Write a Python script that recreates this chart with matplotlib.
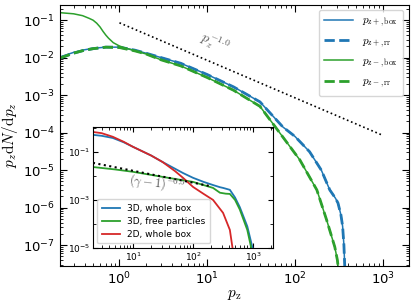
import numpy as np
import matplotlib
matplotlib.use("Agg")
import matplotlib.pyplot as plt
from matplotlib.ticker import LogLocator, FixedLocator, NullFormatter

plt.rcParams['mathtext.fontset'] = 'cm'

# main panel: momentum spectra, log10 values
p_plus = [0.21, 0.3, 0.4, 0.5, 0.7, 1.0, 1.5, 2, 3, 5, 10, 20, 40, 73, 100, 147, 200, 250, 290, 310, 335, 350, 362, 372]
v_plus_rr = [-2.01, -1.88, -1.80, -1.76, -1.72, -1.72, -1.80, -1.88, -2.0, -2.15, -2.45, -2.78, -3.18, -3.85, -4.1, -4.51,
             -5.0, -5.53, -5.75, -5.88, -6.2, -6.5, -7.0, -7.7]
v_plus_box = [-1.98, -1.86, -1.79, -1.75, -1.72, -1.72, -1.80, -1.88, -2.0, -2.15, -2.45, -2.78, -3.18, -3.85, -4.1, -4.51,
              -5.0, -5.53, -5.75, -5.88, -6.2, -6.5, -7.0, -7.7]

p_minus = [0.21, 0.3, 0.38, 0.45, 0.5, 0.55, 0.6, 0.65, 0.7, 0.75, 0.85, 1.0, 1.2, 1.5, 2, 3, 5, 10, 20, 40, 73, 114,
           178, 230, 285, 305, 315]
v_minus_box = [-0.8, -0.83, -0.88, -0.95, -1.0, -1.08, -1.18, -1.3, -1.4, -1.48, -1.6, -1.69, -1.75, -1.82, -1.9,
               -2.06, -2.22, -2.53, -2.87, -3.3, -4.12, -4.73, -5.53, -6.33, -7.05, -7.4, -7.7]
p_minus_rr = [0.21, 0.3, 0.4, 0.5, 0.7, 1.0, 1.5, 2, 3, 5, 10, 20, 40, 73, 114, 178, 230, 285, 305, 315]
v_minus_rr = [-2.01, -1.88, -1.80, -1.76, -1.72, -1.73, -1.82, -1.9, -2.06, -2.22, -2.53, -2.87, -3.3,
              -4.12, -4.73, -5.53, -6.33, -7.05, -7.4, -7.7]

ref_p = [1.0, 1000.0]
ref_v = [0.085, 8.5e-5]

# inset: energy spectra vs (gamma - 1)
g_blue = [2.15, 3, 4.6, 7, 10, 20, 31, 50, 68, 100, 150, 215, 280, 316, 410, 500, 600, 800, 1000]
v_blue = [-0.29, -0.33, -0.42, -0.6, -0.79, -1.15, -1.42, -1.7, -1.88, -2.08, -2.25, -2.38, -2.47, -2.5, -2.58,
          -2.9, -3.3, -4.1, -5.1]
g_red = [2.15, 3, 4.6, 7, 10, 20, 31, 50, 68, 100, 150, 215, 316, 410, 460]
v_red = [-0.17, -0.22, -0.37, -0.58, -0.79, -1.15, -1.42, -1.8, -2.08, -2.46, -2.75, -3.0, -3.54, -4.25, -5.1]
g_green = [2.15, 5, 10, 31, 100, 215, 280, 350, 410, 500, 600, 800, 950]
v_green = [-1.63, -1.73, -1.83, -2.04, -2.25, -2.5, -2.7, -2.74, -2.75, -3.0, -3.4, -4.25, -5.1]
ref_g = [2.15, 200.0]
ref_gv = [0.035, 0.0037]

blue = '#1f77b4'
green = '#2ca02c'
red = '#d62728'

fig = plt.figure(figsize=(4.15, 3.08), dpi=100)
ax = fig.add_axes([0.1446, 0.137, 0.841, 0.848])

ax.plot(p_plus, 10.0 ** np.array(v_plus_box), color=blue, lw=1.1, label=r'$p_{\rm z+,box}$')
ax.plot(p_plus, 10.0 ** np.array(v_plus_rr), color=blue, lw=2.0, ls='--', label=r'$p_{\rm z+,rr}$')
ax.plot(p_minus, 10.0 ** np.array(v_minus_box), color=green, lw=1.1, label=r'$p_{\rm z-,box}$')
ax.plot(p_minus_rr, 10.0 ** np.array(v_minus_rr), color=green, lw=2.0, ls='--', label=r'$p_{\rm z-,rr}$')
ax.plot(ref_p, ref_v, color='k', ls=':', lw=1.2)
ax.text(12, 0.024, r'$p_z^{-1.0}$', rotation=-23, fontsize=10, color='0.35', ha='center', va='center')

ax.set_xscale('log')
ax.set_yscale('log')
ax.set_xlim(0.21, 2000)
ax.set_ylim(2.8e-8, 0.26)
ax.yaxis.set_major_locator(LogLocator(base=10, numticks=20))
ax.yaxis.set_minor_locator(LogLocator(base=10, subs=np.arange(2, 10), numticks=20))
ax.yaxis.set_minor_formatter(NullFormatter())
ax.xaxis.set_minor_formatter(NullFormatter())
ax.tick_params(which='both', direction='in', top=True, right=True, labelsize=9.5)
ax.tick_params(which='major', length=5)
ax.tick_params(which='minor', length=2.5)
ax.set_xlabel(r'$p_{\rm z}$', fontsize=11, labelpad=0)
ax.set_ylabel(r'$p_z\mathrm{d}N/\mathrm{d}p_z$', fontsize=11, labelpad=2)
ax.legend(loc='upper right', fontsize=8, handlelength=2.6, borderpad=0.5, labelspacing=0.6)

# inset
ins = fig.add_axes([0.224, 0.195, 0.434, 0.393])
ins.plot(g_blue, 10.0 ** np.array(v_blue), color=blue, lw=1.3, label='3D, whole box')
ins.plot(g_green, 10.0 ** np.array(v_green), color=green, lw=1.3, label='3D, free particles')
ins.plot(g_red, 10.0 ** np.array(v_red), color=red, lw=1.3, label='2D, whole box')
ins.plot(ref_g, ref_gv, color='k', ls=':', lw=1.5)
ins.text(25, 0.0045, r'$(\gamma-1)^{-0.5}$', rotation=-6, fontsize=9, color='0.35', ha='center', va='center')
ins.set_xscale('log')
ins.set_yscale('log')
ins.set_xlim(2.15, 2150)
ins.set_ylim(1e-5, 1.1)
ins.yaxis.set_major_locator(FixedLocator([1e-5, 1e-3, 1e-1]))
ins.yaxis.set_minor_locator(FixedLocator([1e-4, 1e-2, 1]))
ins.yaxis.set_minor_formatter(NullFormatter())
ins.xaxis.set_minor_formatter(NullFormatter())
ins.tick_params(which='both', direction='in', top=True, right=True, labelsize=6.5, pad=2)
ins.tick_params(which='major', length=3.5)
ins.tick_params(which='minor', length=2)
ins.legend(loc='lower left', fontsize=6.5, handlelength=2.0, borderpad=0.5, labelspacing=0.45)

fig.savefig('out.png', dpi=100)
